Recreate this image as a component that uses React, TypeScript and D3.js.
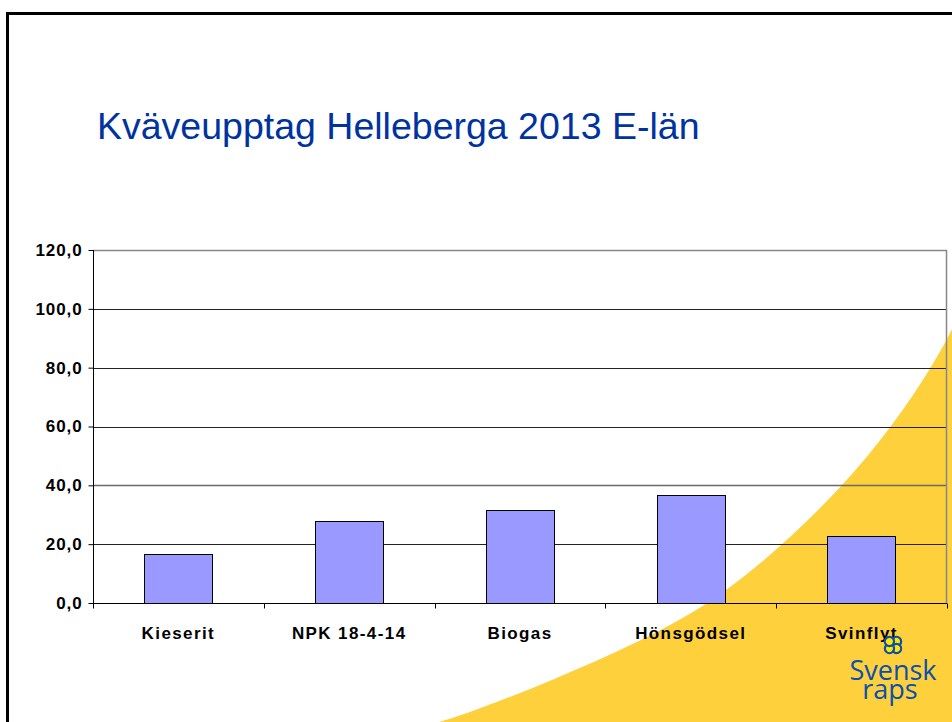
import React, { useEffect, useRef } from 'react';
import * as d3 from 'd3';

const categories = ['Kieserit', 'NPK 18-4-14', 'Biogas', 'Hönsgödsel', 'Svinflyt'];
const values = [16.7, 27.8, 31.5, 36.6, 22.7];
const yTicks = [0, 20, 40, 60, 80, 100, 120];
const title = 'Kväveupptag Helleberga 2013 E-län';

// outline of the yellow background swoosh (decoration, not data)
const swoosh: [number, number][] = [
  [380, 740], [440, 722], [477, 710], [553, 680], [633, 645], [713, 603], [783, 545],
  [843, 486], [892, 427], [932, 367], [952, 330], [968, 296],
];

const W = 952;
const H = 722;

const App = () => {
  const ref = useRef<SVGSVGElement>(null);

  useEffect(() => {
    const svg = d3.select(ref.current);
    svg.selectAll('*').remove();

    const margin = { top: 250, right: 5, bottom: 119, left: 93 };
    const chartWidth = W - margin.left - margin.right;
    const chartHeight = H - margin.top - margin.bottom;

    svg.append('rect').attr('width', W).attr('height', H).attr('fill', '#fff');

    const curve = d3.line().curve(d3.curveBasis)(swoosh);
    svg.append('path')
      .attr('d', `${curve} L975,745 Z`)
      .attr('fill', '#fdd03c');

    // slide frame
    svg.append('rect')
      .attr('x', 7.5).attr('y', 13.5)
      .attr('width', W + 20).attr('height', H + 20)
      .attr('fill', 'none')
      .attr('stroke', '#000')
      .attr('stroke-width', 3);

    svg.append('text')
      .attr('x', 97)
      .attr('y', 139)
      .attr('fill', '#0033a0')
      .style('font-family', 'Liberation Sans, Arial, sans-serif')
      .style('font-size', '37.5px')
      .text(title);

    const g = svg.append('g').attr('transform', `translate(${margin.left},${margin.top})`);

    const x = d3.scaleBand().domain(categories).range([0, chartWidth]).paddingInner(0.6).paddingOuter(0.3);
    const xTick = d3.scaleBand().domain(categories).range([0, chartWidth]);
    const y = d3.scaleLinear().domain([0, 120]).range([chartHeight, 0]);

    // gridlines
    g.append('g')
      .selectAll('line')
      .data(yTicks.slice(1, -1))
      .join('line')
      .attr('x1', 0).attr('x2', chartWidth)
      .attr('y1', d => Math.round(y(d)) + 0.5).attr('y2', d => Math.round(y(d)) + 0.5)
      .attr('stroke', d => (d === 40 ? '#6a6a6a' : '#222'))
      .attr('stroke-width', d => (d === 40 ? 1.6 : 1));

    // plot border top/right
    g.append('path')
      .attr('d', `M0,0.5 H${chartWidth - 0.5} V${chartHeight}`)
      .attr('fill', 'none')
      .attr('stroke', '#888')
      .attr('stroke-width', 1.5);

    g.selectAll('rect.bar')
      .data(values)
      .join('rect')
      .attr('class', 'bar')
      .attr('x', (_, i) => Math.round(x(categories[i])!) + 0.5)
      .attr('y', d => Math.round(y(d)) + 0.5)
      .attr('width', Math.round(x.bandwidth()))
      .attr('height', d => chartHeight - Math.round(y(d)))
      .attr('fill', '#9999ff')
      .attr('stroke', '#000')
      .attr('stroke-width', 1);

    // y axis
    const yAxis = g.append('g')
      .attr('transform', 'translate(0.5,0)')
      .call(d3.axisLeft(y).tickValues(yTicks).tickSize(5).tickPadding(6).tickFormat(d => d3.format('.1f')(d as number).replace('.', ',')));
    yAxis.select('.domain').attr('stroke', '#000').attr('d', `M0,0V${chartHeight}`);
    yAxis.selectAll('.tick line').attr('stroke', '#000');
    yAxis.selectAll('text')
      .attr('fill', '#000')
      .style('font-family', 'Liberation Sans, Arial, sans-serif')
      .style('font-size', '17px')
      .style('font-weight', 'bold')
      .style('letter-spacing', '0.9px');

    // x axis
    const xg = g.append('g').attr('transform', `translate(0,${chartHeight + 0.5})`);
    xg.append('line').attr('x1', 0).attr('x2', chartWidth).attr('stroke', '#000');
    xg.selectAll('line.tk')
      .data([...categories.map(c => xTick(c)!), chartWidth])
      .join('line')
      .attr('class', 'tk')
      .attr('x1', d => Math.round(d) + 0.5).attr('x2', d => Math.round(d) + 0.5)
      .attr('y1', 0).attr('y2', 5)
      .attr('stroke', '#000');
    xg.selectAll('text')
      .data(categories)
      .join('text')
      .attr('x', d => xTick(d)! + xTick.bandwidth() / 2)
      .attr('y', 35)
      .attr('text-anchor', 'middle')
      .attr('fill', '#000')
      .style('font-family', 'Liberation Sans, Arial, sans-serif')
      .style('font-size', '17px')
      .style('font-weight', 'bold')
      .style('letter-spacing', '1.4px')
      .text(d => d);

    // Svensk raps logo
    const logo = svg.append('g').attr('transform', 'translate(893,645) rotate(45)');
    [[0, -5], [5, 0], [0, 5], [-5, 0]].forEach(([dx, dy]) => {
      logo.append('circle')
        .attr('cx', dx).attr('cy', dy).attr('r', 4.6)
        .attr('fill', '#ffe600').attr('stroke', '#0a4fb0').attr('stroke-width', 2.2);
    });
    const txt = svg.append('g');
    txt.append('text')
      .attr('x', 893).attr('y', 680)
      .attr('text-anchor', 'middle')
      .attr('fill', '#0a4fb0')
      .style('font-family', 'Open Sans, Noto Sans, sans-serif')
      .style('font-size', '27px')
      .text('Svensk');
    txt.append('text')
      .attr('x', 890).attr('y', 699)
      .attr('text-anchor', 'middle')
      .attr('fill', '#0a4fb0')
      .style('font-family', 'Open Sans, Noto Sans, sans-serif')
      .style('font-size', '27px')
      .text('raps');
  }, []);

  return <svg ref={ref} width={W} height={H} style={{ display: 'block', position: 'absolute', left: 0, top: 0 }} />;
};

export default App;
